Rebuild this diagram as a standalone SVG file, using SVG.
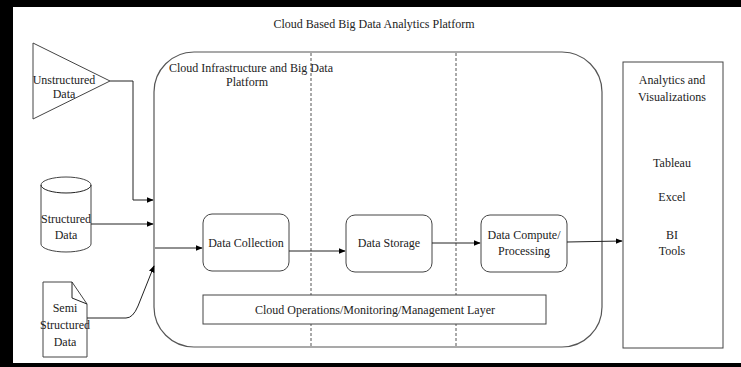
<svg xmlns="http://www.w3.org/2000/svg" width="741" height="367" viewBox="0 0 741 367">
  <defs>
    <marker id="arrow" viewBox="0 0 10 10" refX="9" refY="5" markerWidth="7" markerHeight="7" orient="auto" markerUnits="userSpaceOnUse">
      <path d="M0,1 L10,5 L0,9 Z" fill="#000"/>
    </marker>
    <style>
      .shape { fill: #fff; stroke: #444; stroke-width: 1; }
      .frame { fill: none; stroke: #555; stroke-width: 1.2; }
      .dash { fill: none; stroke: #555; stroke-width: 1; stroke-dasharray: 3 2; }
      .link { fill: none; stroke: #222; stroke-width: 1; marker-end: url(#arrow); }
      .plain { fill: none; stroke: #222; stroke-width: 1; }
      text { font-family: "Liberation Serif", "Times New Roman", serif; font-size: 12px; fill: #222; text-anchor: middle; }
    </style>
  </defs>

  <!-- page background and black border bands -->
  <rect x="0" y="0" width="741" height="367" fill="#fff"/>
  <rect x="0" y="0" width="741" height="7" fill="#000"/>
  <rect x="0" y="0" width="13" height="367" fill="#000"/>
  <rect x="0" y="363" width="741" height="4" fill="#000"/>

  <text id="title" x="374" y="28">Cloud Based Big Data Analytics Platform</text>

  <!-- platform container with column separators -->
  <g id="platform">
    <rect class="frame" x="154" y="52" width="448" height="295" rx="40" ry="40"/>
    <line class="dash" x1="311" y1="53" x2="311" y2="347"/>
    <line class="dash" x1="456" y1="53" x2="456" y2="347"/>
    <text x="251" y="72">Cloud Infrastructure and Big Data</text>
    <text x="247" y="86">Platform</text>
  </g>

  <g id="unstructured">
    <polygon class="shape" points="33,43 110,81 33,119"/>
    <text x="64" y="84">Unstructured</text>
    <text x="64" y="98">Data</text>
  </g>

  <g id="structured">
    <path class="shape" d="M41,185 A25,8 0 0 1 91,185 V244 A25,8 0 0 1 41,244 Z"/>
    <path class="plain" d="M41,185 A25,8 0 0 0 91,185" stroke="#444"/>
    <text x="66" y="223">Structured</text>
    <text x="66" y="239">Data</text>
  </g>

  <g id="semistructured">
    <path class="shape" d="M43,282 H72 L87,304 V357 H43 Z"/>
    <path class="plain" d="M72,282 V298 L87,304" stroke="#444"/>
    <text x="65" y="312">Semi</text>
    <text x="65" y="329">Structured</text>
    <text x="65" y="346">Data</text>
  </g>

  <g id="collection">
    <rect class="shape" x="203" y="214" width="86" height="57" rx="9" ry="9"/>
    <text x="246" y="247">Data Collection</text>
  </g>

  <g id="storage">
    <rect class="shape" x="346" y="215" width="86" height="57" rx="9" ry="9"/>
    <text x="389" y="247">Data Storage</text>
  </g>

  <g id="compute">
    <rect class="shape" x="481" y="215" width="86" height="57" rx="9" ry="9"/>
    <text x="524" y="239">Data Compute/</text>
    <text x="524" y="255">Processing</text>
  </g>

  <g id="operations">
    <rect class="shape" x="203" y="295" width="343" height="29"/>
    <text x="375" y="314">Cloud Operations/Monitoring/Management Layer</text>
  </g>

  <g id="analytics">
    <rect class="shape" x="623" y="62" width="100" height="286"/>
    <text x="672" y="84">Analytics and</text>
    <text x="672" y="101">Visualizations</text>
    <text x="672" y="167">Tableau</text>
    <text x="672" y="201">Excel</text>
    <text x="672" y="239">BI</text>
    <text x="672" y="255">Tools</text>
  </g>

  <!-- connectors -->
  <g id="connectors">
    <path class="link" d="M110,81 H133 V200 H153"/>
    <path class="link" d="M91,224 H153"/>
    <path class="link" d="M87,318 H126 Q133,318 138,306 L154,266"/>
    <path class="link" d="M155,248 H202"/>
    <path class="link" d="M289,251 H345"/>
    <path class="link" d="M432,243 H480"/>
    <path class="link" d="M567,242 L622,241"/>
  </g>
</svg>
